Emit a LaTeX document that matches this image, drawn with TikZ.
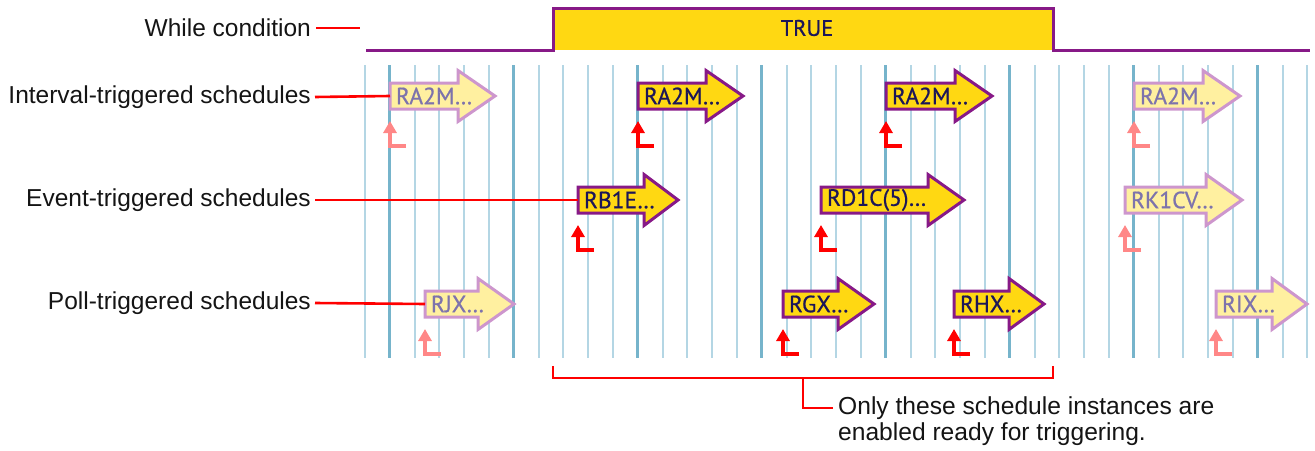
\documentclass[tikz,border=0pt]{standalone}
\usepackage{fontspec}
\setmainfont{Liberation Sans}
\newfontfamily\arrowfont[FakeBold=0.7]{PT Sans}
\usetikzlibrary{arrows.meta}
\definecolor{sigyellow}{RGB}{255,216,18}
\definecolor{sigpurple}{RGB}{135,25,135}
\definecolor{fadefill}{RGB}{255,240,160}
\definecolor{fadedraw}{RGB}{205,150,205}
\definecolor{fadetext}{RGB}{125,115,172}
\definecolor{brighttxt}{RGB}{28,22,88}
\definecolor{gridthin}{RGB}{180,214,228}
\definecolor{gridthick}{RGB}{118,180,203}
\definecolor{trigred}{RGB}{255,0,0}
\definecolor{trigfade}{RGB}{255,135,135}
\definecolor{labeltext}{RGB}{20,20,20}
\newcommand\schedarrow[7]{%
  \path[#7arrow] ({#2},{#3-13}) -- ({#4},{#3-13}) -- ({#4},{#3-25.5}) -- ({#5},{#3})
    -- ({#4},{#3+25.5}) -- ({#4},{#3+13}) -- ({#2},{#3+13}) -- cycle;
  \node[#7text, anchor=west] (#1) at ({#2},{#3}) {#6};
  \coordinate (#1foot) at ({#2+16},{#3+50});
  \draw[#7trig] (#1foot) -- ({#2},{#3+50}) -- ({#2},{#3+25});
}
\begin{document}
\begin{tikzpicture}[x=1pt,y=-1pt,
  brightarrow/.style={fill=sigyellow,draw=sigpurple,line width=3pt,line join=miter},
  fadedarrow/.style={fill=fadefill,draw=fadedraw,line width=3pt,line join=miter},
  brighttext/.style={font=\arrowfont\fontsize{23.5}{26}\selectfont,text=brighttxt,inner xsep=6pt,inner ysep=0pt,outer sep=0pt},
  fadedtext/.style={font=\arrowfont\fontsize{23.5}{26}\selectfont,text=fadetext,inner xsep=6pt,inner ysep=0pt,outer sep=0pt},
  brighttrig/.style={draw=trigred,line width=3.4pt,-{Triangle[width=13pt,length=12pt]}},
  fadedtrig/.style={draw=trigfade,line width=3.4pt,-{Triangle[width=13pt,length=12pt]}},
  rowlabel/.style={font=\fontsize{24.5}{27}\selectfont,text=labeltext,anchor=east,inner sep=0pt},
  redline/.style={draw=trigred,line width=2.6pt},
  thingrid/.style={draw=gridthin,line width=2pt},
  thickgrid/.style={draw=gridthick,line width=3pt}]
\useasboundingbox (0,0) rectangle (1315,450);
% grid
\foreach \k in {0,...,38}{
  \draw[thingrid] ({365+24.8*\k},65) -- ({365+24.8*\k},358);
}
\foreach \k in {1,6,...,36}{
  \draw[thickgrid] ({365+24.8*\k},65) -- ({365+24.8*\k},358);
}
% while condition signal
\fill[sigyellow] (553,8) rectangle (1053,50);
\draw[sigpurple,line width=3pt] (366,50) -- (553,50) -- (553,8) -- (1053,8) -- (1053,50) -- (1310,50);
\node[font=\arrowfont\fontsize{22.5}{24}\selectfont,text=brighttxt] (true) at (807,28) {TRUE};
% labels
\node[rowlabel] (wlab) at (311,28) {While condition};
\node[rowlabel] (ilab) at (311,97) {Interval-triggered schedules};
\node[rowlabel] (elab) at (311,200) {Event-triggered schedules};
\node[rowlabel] (plab) at (311,303) {Poll-triggered schedules};
% arrows
\schedarrow{a1}{390}{96}{458}{495}{RA2M…}{faded}
\schedarrow{a2}{638}{96}{706}{743}{RA2M…}{bright}
\schedarrow{a3}{886}{96}{955}{992}{RA2M…}{bright}
\schedarrow{a4}{1134}{96}{1203}{1240}{RA2M…}{faded}
\schedarrow{b1}{578}{200}{644}{678}{RB1E…}{bright}
\schedarrow{b2}{821}{200}{928}{964}{RD1C(5)…}{bright}
\schedarrow{b3}{1125}{200}{1206}{1242}{RK1CV…}{faded}
\schedarrow{c1}{425}{304}{478}{514}{RJX…}{faded}
\schedarrow{c2}{783}{304}{838}{874}{RGX…}{bright}
\schedarrow{c3}{954}{304}{1009}{1044}{RHX…}{bright}
\schedarrow{c4}{1216}{304}{1272}{1307}{RIX…}{faded}
% label connectors
\coordinate (wend) at (360,28);
\draw[redline] ([xshift=5pt]wlab.east) -- (wend);
\draw[redline] ([xshift=4pt]ilab.east) -- (a1.west);
\draw[redline] ([xshift=4pt]elab.east) -- (b1.west);
\draw[redline] ([xshift=4pt]plab.east) -- (c1.west);
% bracket
\coordinate (brL) at (553,366);
\coordinate (brR) at (1053,366);
\coordinate (brM) at (803,378);
\node[font=\fontsize{24.6}{26}\selectfont,text=labeltext,align=left,anchor=west,inner sep=0pt] (note) at (838,421)
  {Only these schedule instances are\\enabled ready for triggering.};
\draw[redline] (brL) -- (553,378) -- (1053,378) -- (brR);
\draw[redline] (brM) |- ([xshift=-5pt,yshift=13pt]note.west);
\end{tikzpicture}
\end{document}
